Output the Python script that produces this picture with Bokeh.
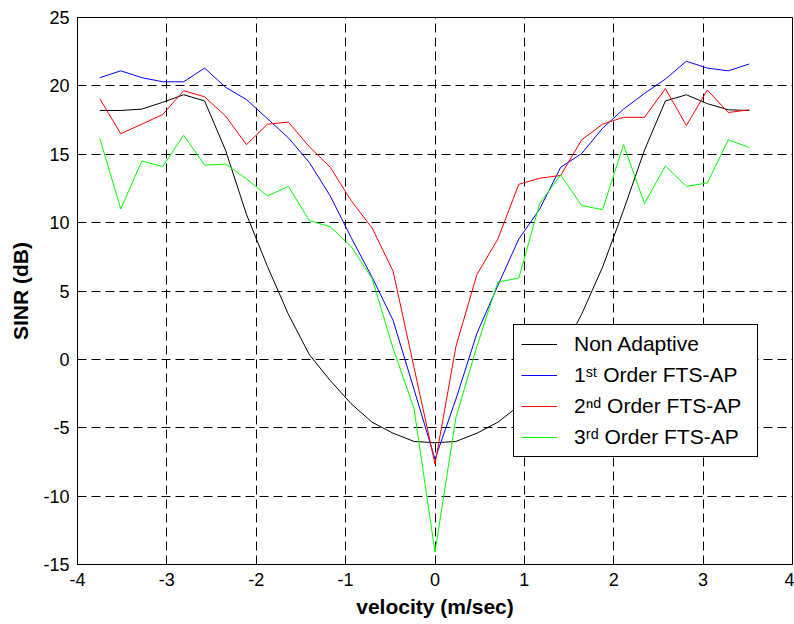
from bokeh.plotting import figure
from bokeh.models import Range1d, FixedTicker, Legend, LegendItem
from bokeh.embed import file_html
from bokeh.resources import INLINE

velocity = [-3.7500, -3.5156, -3.2813, -3.0469, -2.8125, -2.5781, -2.3438, -2.1094,
            -1.8750, -1.6406, -1.4063, -1.1719, -0.9375, -0.7031, -0.4688, -0.2344,
            0.0, 0.2344, 0.4688, 0.7031, 0.9375, 1.1719, 1.4063, 1.6406,
            1.8750, 2.1094, 2.3438, 2.5781, 2.8125, 3.0469, 3.2813, 3.5156]

non_adaptive = [18.2, 18.2, 18.3, 18.8, 19.35, 18.9, 15.3, 10.6,
                6.8, 3.3, 0.35, -1.55, -3.25, -4.6, -5.4, -6.0,
                -6.1, -6.0, -5.4, -4.6, -3.4, -1.6, 0.4, 3.3,
                6.75, 10.9, 15.3, 18.9, 19.35, 18.7, 18.25, 18.2]

fts_1st = [20.6, 21.1, 20.6, 20.3, 20.3, 21.3, 19.9, 19.0,
           17.6, 16.2, 14.4, 11.95, 8.9, 6.0, 2.85, -2.2,
           -7.3, -2.9, 1.9, 5.4, 8.8, 11.0, 14.05, 15.05,
           16.9, 18.3, 19.45, 20.5, 21.8, 21.3, 21.1, 21.6]

fts_2nd = [19.05, 16.5, 17.2, 17.9, 19.65, 19.2, 17.8, 15.7,
           17.2, 17.35, 15.55, 14.05, 11.6, 9.6, 6.45, -0.6,
           -7.65, 0.95, 6.2, 8.8, 12.8, 13.25, 13.45, 16.05,
           17.2, 17.7, 17.7, 19.8, 17.1, 19.7, 18.05, 18.25]

fts_3rd = [16.15, 11.0, 14.5, 14.1, 16.4, 14.2, 14.28, 13.2,
           11.95, 12.65, 10.15, 9.7, 8.25, 5.9, 0.8, -3.6,
           -14.1, -4.25, 0.95, 5.65, 5.95, 11.4, 13.5, 11.25,
           10.95, 15.7, 11.4, 14.15, 12.65, 12.9, 16.05, 15.5]

x_ticks = [-4, -3, -2, -1, 0, 1, 2, 3, 4]
y_ticks = [-15, -10, -5, 0, 5, 10, 15, 20, 25]

series_labels = ["Non Adaptive", "1\u02e2\u1d57 Order FTS-AP",
                 "2\u207f\u1d48 Order FTS-AP", "3\u02b3\u1d48 Order FTS-AP"]
series_colors = ["#000000", "#0000ff", "#ff0000", "#00ff00"]

FONT = "Liberation Sans"

p = figure(width=794, height=624, output_backend="svg", toolbar_location=None,
           x_range=Range1d(-4, 4), y_range=Range1d(-15, 25),
           min_border_left=77, min_border_right=2, min_border_top=17,
           min_border_bottom=60, background_fill_color="white",
           border_fill_color="white")

p.outline_line_color = "black"
p.outline_line_width = 1
p.outline_line_alpha = 1

for ax in (p.xaxis, p.yaxis):
    ax.axis_line_color = "black"
    ax.major_tick_line_color = "black"
    ax.major_tick_in = 7
    ax.major_tick_out = 0
    ax.minor_tick_line_color = None
    ax.major_label_text_font = FONT
    ax.major_label_text_font_size = "18px"
    ax.major_label_text_color = "black"
    ax.axis_label_text_font = FONT
    ax.axis_label_text_font_size = "21px"
    ax.axis_label_text_font_style = "bold"
    ax.axis_label_text_color = "black"

p.xaxis.ticker = FixedTicker(ticks=x_ticks)
p.yaxis.ticker = FixedTicker(ticks=y_ticks)
p.xaxis.major_label_overrides = {t: str(t) for t in x_ticks}
p.yaxis.major_label_overrides = {t: str(t) for t in y_ticks}
p.xaxis.axis_label = "velocity (m/sec)"
p.yaxis.axis_label = "SINR (dB)"
p.xaxis.major_label_standoff = 8
p.xaxis.axis_label_standoff = 6
p.yaxis.major_label_standoff = 8
p.yaxis.axis_label_standoff = 8

for g in (p.xgrid, p.ygrid):
    g.grid_line_color = "black"
    g.grid_line_alpha = 1
    g.grid_line_width = 1
    g.grid_line_dash = "9 5"
p.xgrid.ticker = FixedTicker(ticks=x_ticks)
p.ygrid.ticker = FixedTicker(ticks=y_ticks)

renderers = []
for ys, col in zip([non_adaptive, fts_1st, fts_2nd, fts_3rd], series_colors):
    r = p.line(velocity, ys, line_color=col, line_width=1)
    renderers.append(r)

legend = Legend(items=[LegendItem(label=lab, renderers=[r])
                       for lab, r in zip(series_labels, renderers)],
                location=(436, 107))
legend.label_text_font = FONT
legend.label_text_font_size = "21px"
legend.label_text_color = "black"
legend.glyph_width = 36
legend.glyph_height = 20
legend.label_height = 20
legend.label_width = 176
legend.label_standoff = 17
legend.spacing = 7
legend.padding = 7
legend.margin = 0
legend.border_line_color = "black"
legend.border_line_width = 1
legend.border_line_alpha = 1
legend.background_fill_color = "white"
legend.background_fill_alpha = 1
p.add_layout(legend, "center")

open("out.html", "w").write(file_html(p, INLINE))
